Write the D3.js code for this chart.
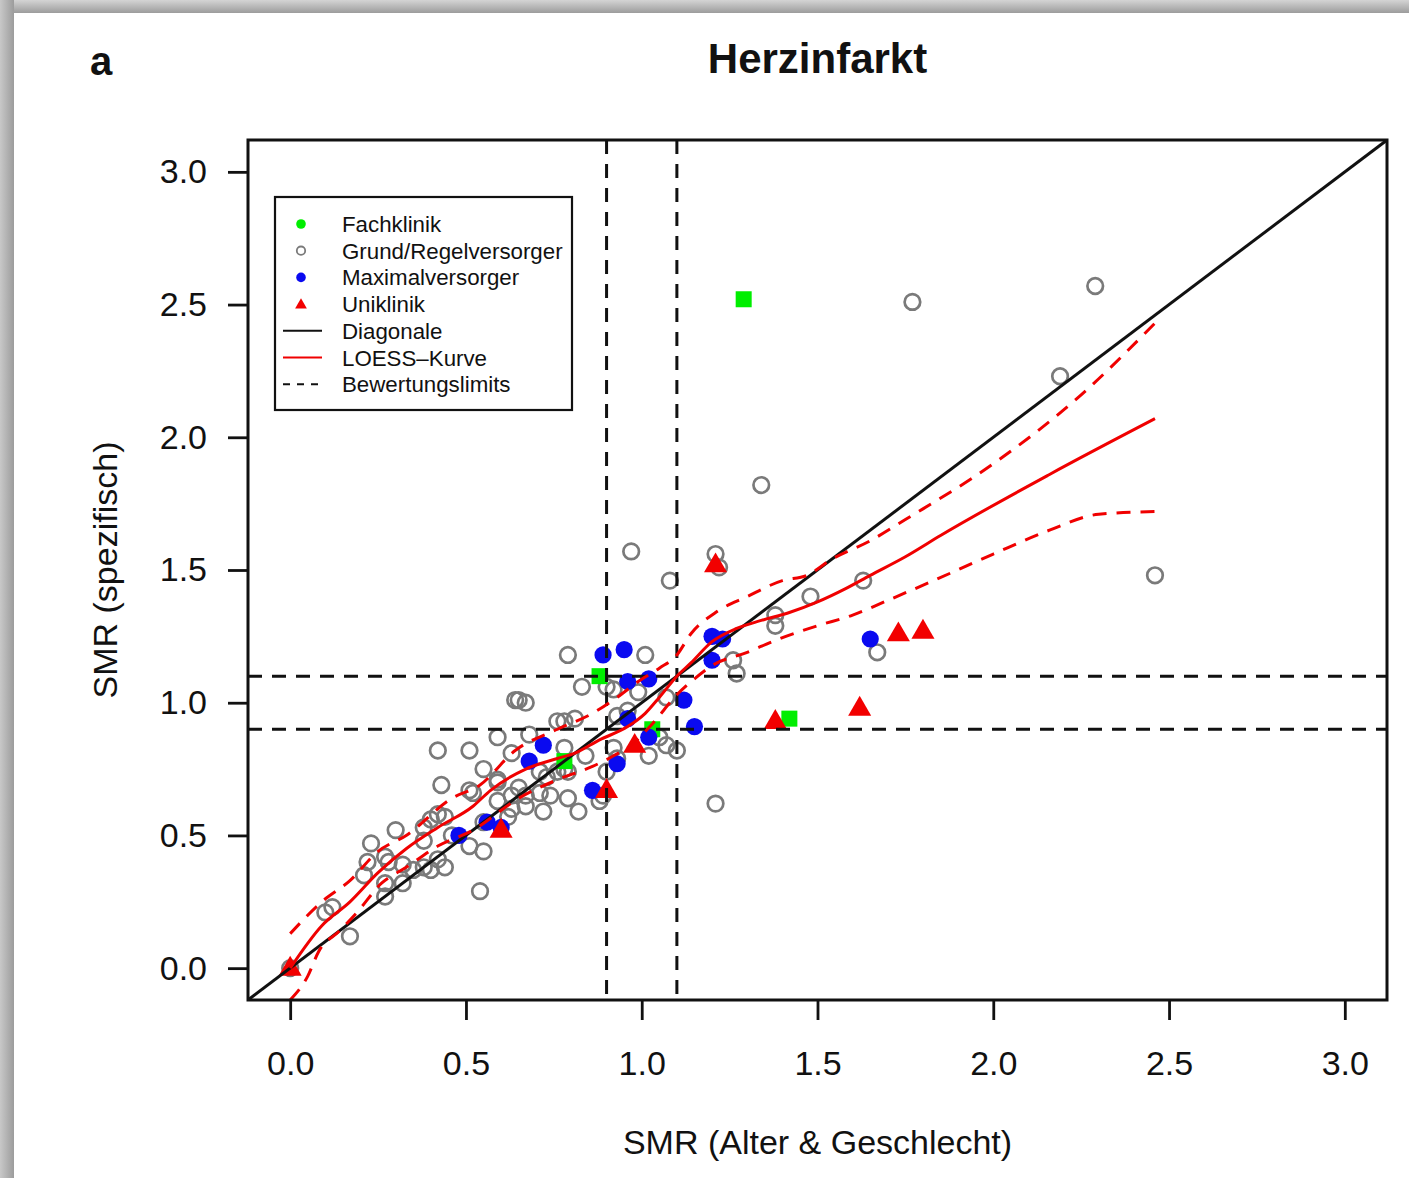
<!DOCTYPE html>
<html><head><meta charset="utf-8">
<script src="https://cdn.jsdelivr.net/npm/d3@7"></script>
<style>body{margin:0;background:#fff}svg{display:block}text{font-family:"Liberation Sans",Arial,sans-serif;fill:#111}</style>
</head><body>
<script>
// ---- data ----
const xTicks = [0, 0.5, 1.0, 1.5, 2.0, 2.5, 3.0];
const yTicks = [0, 0.5, 1.0, 1.5, 2.0, 2.5, 3.0];
const limits = [0.9, 1.1];
const fachklinik = [[1.29,2.52],[0.88,1.10],[1.03,0.90],[1.42,0.94],[0.78,0.78]];
const uniklinik = [[1.21,1.52],[1.73,1.26],[1.80,1.27],[1.38,0.93],[1.62,0.98],[0.98,0.84],[0.90,0.67],[0.60,0.52],[0,0]];
const maximalversorger = [[0.89,1.18],[0.95,1.20],[0.96,1.08],[1.02,1.09],[1.12,1.01],[1.15,0.91],[1.20,1.25],[1.23,1.24],[1.20,1.16],[1.65,1.24],[0.72,0.84],[0.68,0.78],[0.86,0.67],[0.93,0.77],[0.56,0.55],[0.48,0.50],[0.60,0.53],[0.96,0.94],[1.02,0.87]];
const grundRegel = [[1.77,2.51],[2.29,2.57],[2.19,2.23],[1.34,1.82],[2.46,1.48],[0.97,1.57],[1.08,1.46],[1.21,1.56],[1.22,1.51],[1.63,1.46],[1.48,1.40],[1.38,1.33],[1.38,1.29],[1.67,1.19],[1.26,1.16],[1.27,1.11],[1.21,0.62],
 [0.79,1.18],[1.01,1.18],[0.83,1.06],[0.90,1.06],[0.92,1.05],[0.99,1.04],[1.07,1.02],[0.64,1.01],[0.65,1.01],[0.67,1.00],[0.96,0.97],[0.93,0.95],
 [0.76,0.93],[0.78,0.93],[0.81,0.94],[0.59,0.87],[0.68,0.88],[0.51,0.82],[0.42,0.82],[0.63,0.81],[0.78,0.83],[0.84,0.80],[1.05,0.87],[1.07,0.84],[1.10,0.82],[1.02,0.80],[0.92,0.83],[0.93,0.79],[0.90,0.74],[0.89,0.65],
 [0.55,0.75],[0.59,0.71],[0.71,0.74],[0.73,0.72],[0.76,0.74],[0.78,0.75],[0.79,0.74],[0.51,0.67],[0.52,0.66],[0.65,0.68],[0.63,0.65],[0.71,0.66],[0.74,0.65],[0.59,0.63],[0.67,0.65],[0.79,0.64],[0.88,0.63],[0.82,0.59],[0.72,0.59],[0.63,0.60],[0.62,0.57],[0.67,0.61],[0.55,0.55],
 [0.51,0.46],[0.55,0.44],[0.54,0.29],[0.43,0.69],[0.59,0.70],[0.42,0.58],[0.44,0.57],[0.40,0.56],[0.46,0.50],[0.38,0.53],[0.38,0.48],[0.30,0.52],[0.23,0.47],[0.27,0.42],[0.28,0.40],[0.32,0.39],[0.22,0.40],[0.21,0.35],[0.27,0.32],[0.32,0.32],[0.27,0.27],[0.35,0.37],[0.42,0.41],[0.44,0.38],[0.38,0.38],[0.40,0.37],[0.12,0.23],[0.10,0.21],[0.17,0.12],[0,0]];
const loess = [[0,0],[0.09,0.16],[0.17,0.25],[0.25,0.36],[0.33,0.45],[0.42,0.53],[0.52,0.61],[0.57,0.67],[0.67,0.75],[0.76,0.79],[0.81,0.81],[0.88,0.86],[0.96,0.91],[1.01,0.96],[1.05,1.02],[1.10,1.10],[1.14,1.15],[1.20,1.23],[1.27,1.28],[1.34,1.31],[1.42,1.34],[1.50,1.38],[1.58,1.43],[1.65,1.48],[1.75,1.55],[1.85,1.63],[2.16,1.86],[2.46,2.07]];
const loessUpper = [[0,0.13],[0.09,0.25],[0.17,0.33],[0.25,0.44],[0.33,0.50],[0.46,0.64],[0.54,0.69],[0.64,0.82],[0.76,0.90],[0.86,0.96],[0.93,1.02],[0.99,1.08],[1.05,1.13],[1.10,1.18],[1.14,1.26],[1.21,1.34],[1.30,1.40],[1.40,1.46],[1.47,1.48],[1.54,1.54],[1.65,1.61],[1.75,1.69],[2.0,1.90],[2.25,2.16],[2.46,2.43]];
const loessLower = [[0,-0.12],[0.05,-0.03],[0.08,0.06],[0.14,0.14],[0.19,0.21],[0.26,0.32],[0.33,0.38],[0.42,0.46],[0.52,0.52],[0.65,0.64],[0.76,0.71],[0.86,0.76],[0.92,0.80],[0.97,0.84],[1.03,0.92],[1.10,1.03],[1.15,1.09],[1.20,1.14],[1.30,1.19],[1.39,1.24],[1.50,1.29],[1.60,1.33],[1.69,1.38],[1.83,1.46],[2.0,1.56],[2.16,1.65],[2.30,1.71],[2.46,1.72]];
const legendLabels = ["Fachklinik","Grund/Regelversorger","Maximalversorger","Uniklinik","Diagonale","LOESS\u2013Kurve","Bewertungslimits"];

// ---- drawing ----
const W = 1409, H = 1178;
const L = 248, R = 1387, T = 140, B = 1000;
const svg = d3.select("body").append("svg").attr("width", W).attr("height", H);
const defs = svg.append("defs");
const gt = defs.append("linearGradient").attr("id","gt").attr("x1",0).attr("y1",0).attr("x2",0).attr("y2",1);
gt.append("stop").attr("offset","0%").attr("stop-color","#d4d4d4");
gt.append("stop").attr("offset","100%").attr("stop-color","#9c9c9c");
const gl = defs.append("linearGradient").attr("id","gl").attr("x1",0).attr("y1",0).attr("x2",1).attr("y2",0);
gl.append("stop").attr("offset","0%").attr("stop-color","#c8c8c8");
gl.append("stop").attr("offset","100%").attr("stop-color","#9c9c9c");
defs.append("clipPath").attr("id","plotclip").append("rect").attr("x",L).attr("y",T).attr("width",R-L).attr("height",B-T);

svg.append("rect").attr("x",0).attr("y",0).attr("width",W).attr("height",13).attr("fill","url(#gt)");
svg.append("rect").attr("x",0).attr("y",0).attr("width",14).attr("height",H).attr("fill","url(#gl)");

const x = d3.scaleLinear().domain([-0.12, 3.12]).range([L, R]);
const y = d3.scaleLinear().domain([-0.12, 3.12]).range([B, T]);

// titles
svg.append("text").attr("x",90).attr("y",75).attr("font-size",40).attr("font-weight","bold").text("a");
svg.append("text").attr("x",(L+R)/2).attr("y",73).attr("text-anchor","middle").attr("font-size",42).attr("font-weight","bold").text("Herzinfarkt");
svg.append("text").attr("x",(L+R)/2).attr("y",1154).attr("text-anchor","middle").attr("font-size",34).text("SMR (Alter & Geschlecht)");
svg.append("text").attr("transform","translate(117,570) rotate(-90)").attr("text-anchor","middle").attr("font-size",34).text("SMR (spezifisch)");

// axes
const fmt = d3.format(".1f");
const ax = svg.append("g").attr("transform",`translate(0,${B})`)
  .call(d3.axisBottom(x).tickValues(xTicks).tickFormat(fmt).tickSize(20).tickPadding(31));
const ay = svg.append("g").attr("transform",`translate(${L},0)`)
  .call(d3.axisLeft(y).tickValues(yTicks).tickFormat(fmt).tickSize(20).tickPadding(21));
[ax, ay].forEach(g => {
  g.select(".domain").remove();
  g.selectAll("line").attr("stroke","#111").attr("stroke-width",2.8);
  g.selectAll("text").attr("font-size",34).attr("fill","#111").attr("font-family","Liberation Sans, Arial, sans-serif");
});

const plot = svg.append("g").attr("clip-path","url(#plotclip)");

// points
const tri = d3.symbol().type(d3.symbolTriangle).size(230);
plot.append("g").selectAll("circle").data(grundRegel).join("circle")
  .attr("cx",d=>x(d[0])).attr("cy",d=>y(d[1])).attr("r",7.8)
  .attr("fill","none").attr("stroke","#7a7a7a").attr("stroke-width",2.7);
plot.append("g").selectAll("rect").data(fachklinik).join("rect")
  .attr("x",d=>x(d[0])-8).attr("y",d=>y(d[1])-8).attr("width",16).attr("height",16).attr("fill","#00ee00");
plot.append("g").selectAll("circle").data(maximalversorger).join("circle")
  .attr("cx",d=>x(d[0])).attr("cy",d=>y(d[1])).attr("r",8.6).attr("fill","#0a0af0");
plot.append("g").selectAll("path").data(uniklinik).join("path")
  .attr("d",tri).attr("transform",d=>`translate(${x(d[0])},${y(d[1])+1})`).attr("fill","#f20000");

// reference lines
limits.forEach(v => {
  plot.append("line").attr("x1",x(v)).attr("x2",x(v)).attr("y1",T).attr("y2",B)
    .attr("stroke","#111").attr("stroke-width",3).attr("stroke-dasharray","14,10");
  plot.append("line").attr("x1",L).attr("x2",R).attr("y1",y(v)).attr("y2",y(v))
    .attr("stroke","#111").attr("stroke-width",3).attr("stroke-dasharray","14,10");
});
plot.append("line").attr("x1",x(-0.12)).attr("y1",y(-0.12)).attr("x2",x(3.12)).attr("y2",y(3.12))
  .attr("stroke","#111").attr("stroke-width",3);

const line = d3.line().x(d=>x(d[0])).y(d=>y(d[1])).curve(d3.curveMonotoneX);
plot.append("path").datum(loess).attr("d",line).attr("fill","none").attr("stroke","#f00000").attr("stroke-width",3);
[loessUpper, loessLower].forEach(dd => {
  plot.append("path").datum(dd).attr("d",line).attr("fill","none").attr("stroke","#f00000")
    .attr("stroke-width",3).attr("stroke-dasharray","14,10");
});

// box
svg.append("rect").attr("x",L).attr("y",T).attr("width",R-L).attr("height",B-T)
  .attr("fill","none").attr("stroke","#111").attr("stroke-width",3);

// legend
const lg = svg.append("g");
lg.append("rect").attr("x",275).attr("y",197).attr("width",297).attr("height",213)
  .attr("fill","#fff").attr("stroke","#111").attr("stroke-width",2.2);
const ly0 = 224, ldy = 26.7, sx = 301;
legendLabels.forEach((t,i) => {
  lg.append("text").attr("x",342).attr("y",ly0 + i*ldy + 8).attr("font-size",22.3).text(t);
});
lg.append("circle").attr("cx",sx).attr("cy",ly0).attr("r",4.8).attr("fill","#00ee00");
lg.append("circle").attr("cx",sx).attr("cy",ly0+ldy).attr("r",4.2).attr("fill","none").attr("stroke","#7a7a7a").attr("stroke-width",1.8);
lg.append("circle").attr("cx",sx).attr("cy",ly0+2*ldy).attr("r",4.8).attr("fill","#0a0af0");
lg.append("path").attr("d",d3.symbol().type(d3.symbolTriangle).size(60)).attr("transform",`translate(${sx},${ly0+3*ldy+1})`).attr("fill","#f20000");
lg.append("line").attr("x1",283).attr("x2",322).attr("y1",ly0+4*ldy).attr("y2",ly0+4*ldy).attr("stroke","#111").attr("stroke-width",2);
lg.append("line").attr("x1",283).attr("x2",322).attr("y1",ly0+5*ldy).attr("y2",ly0+5*ldy).attr("stroke","#f00000").attr("stroke-width",2);
lg.append("line").attr("x1",283).attr("x2",322).attr("y1",ly0+6*ldy).attr("y2",ly0+6*ldy).attr("stroke","#111").attr("stroke-width",2).attr("stroke-dasharray","7,7");
</script>
</body></html>
